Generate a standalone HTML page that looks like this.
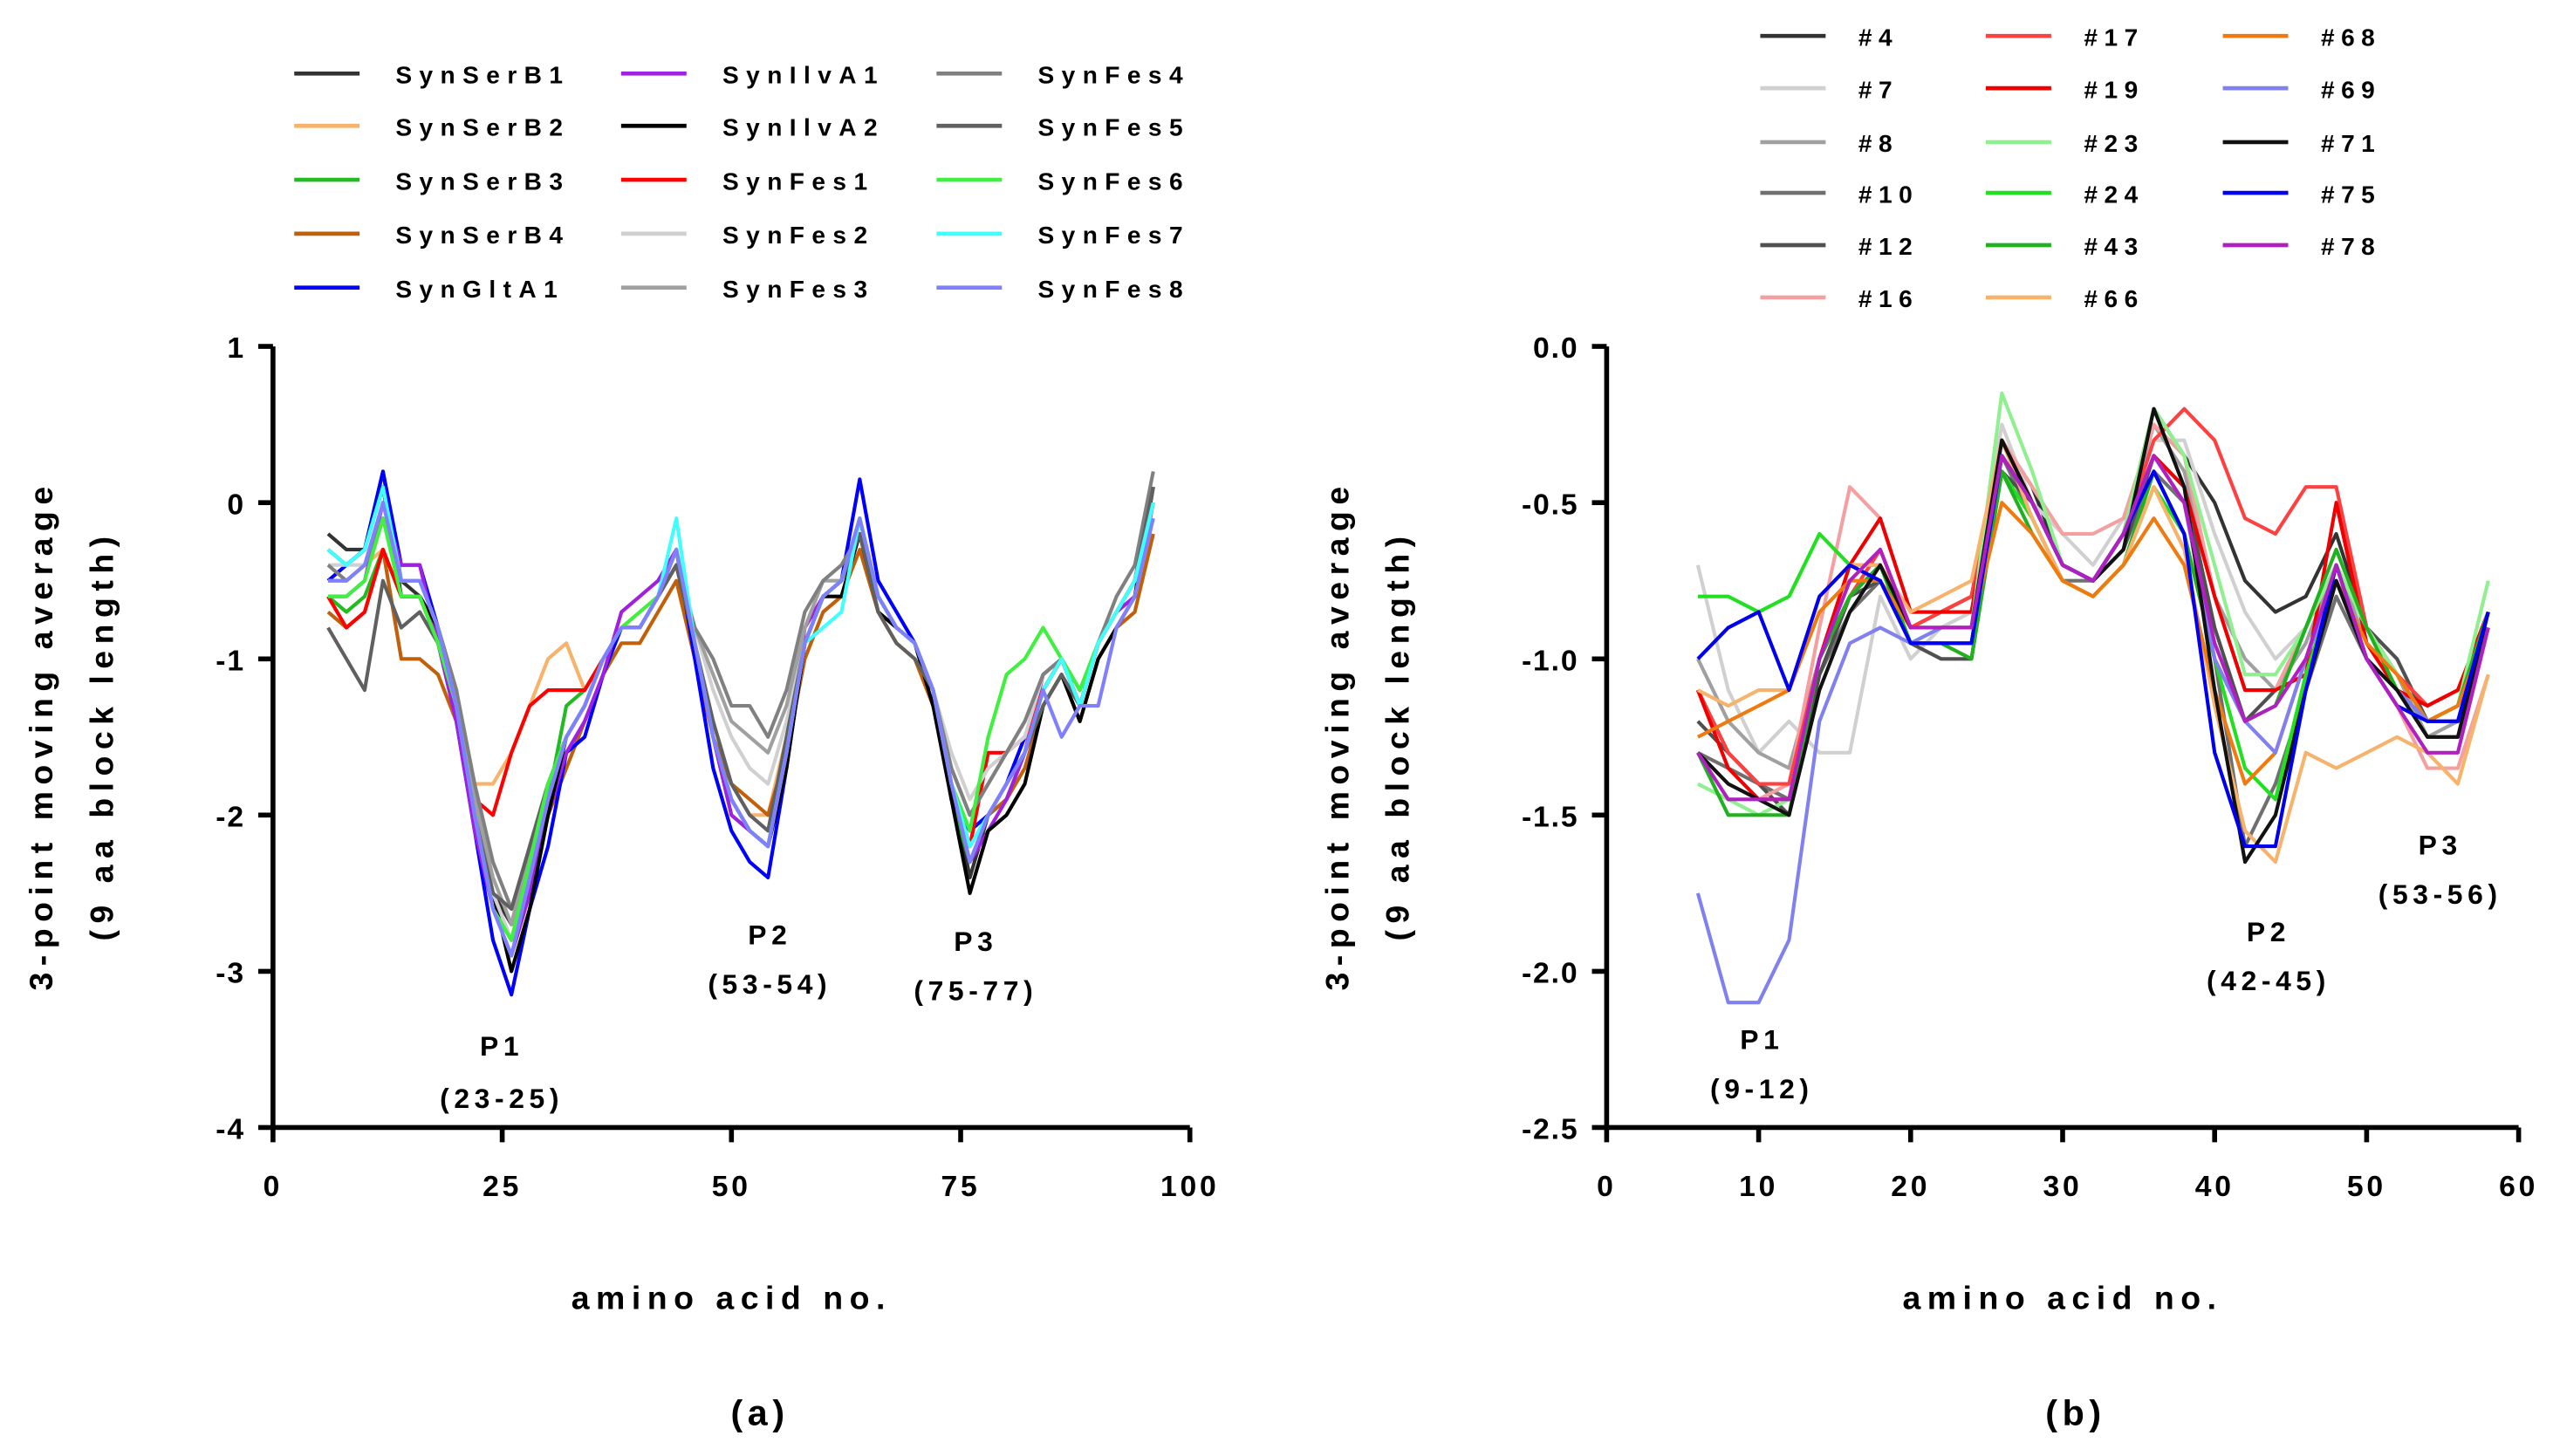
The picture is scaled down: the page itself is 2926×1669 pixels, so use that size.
<!DOCTYPE html>
<html><head><meta charset="utf-8"><style>
html,body{margin:0;padding:0;background:#fff;}
svg{display:block;font-family:"Liberation Sans",Arial,sans-serif;font-weight:bold;}
</style></head><body>
<svg id="fig" width="2926" height="1669" viewBox="0 0 1562 891" xmlns="http://www.w3.org/2000/svg">
<g id="chartA"></g>
<g id="chartB"></g>
</svg>
<script>
// ---------- Chart A data ----------
const xA = [6,8,10,12,14,16,18,20,22,24,26,28,30,32,34,36,38,40,42,44,46,48,50,52,54,56,58,60,62,64,66,68,70,72,74,76,78,80,82,84,86,88,90,92,94,96];
const namesA = ["SynSerB1","SynSerB2","SynSerB3","SynSerB4","SynGltA1","SynIlvA1","SynIlvA2","SynFes1","SynFes2","SynFes3","SynFes4","SynFes5","SynFes6","SynFes7","SynFes8"];
const colorsA = ["#333333","#f7b26b","#22bb22","#c0600a","#0000ff","#a020e0","#000000","#ff0000","#d0d0d0","#a0a0a0","#808080","#606060","#40f040","#40ffff","#8080ff"];
const sSerB1=[-0.2,-0.3,-0.3,0.2,-0.5,-0.6,-0.8,-1.2,-1.9,-2.5,-2.7,-2.3,-1.9,-1.5,-1.3,-1.0,-0.8,-0.8,-0.6,-0.4,-0.9,-1.5,-1.9,-2.1,-2.2,-1.6,-0.9,-0.6,-0.5,-0.1,-0.6,-0.8,-0.9,-1.2,-1.8,-2.4,-2.0,-1.9,-1.6,-1.2,-1.0,-1.3,-0.9,-0.7,-0.5,0.1];
const sSerB2=[-0.5,-0.5,-0.4,-0.3,-0.6,-0.6,-0.9,-1.3,-1.8,-1.8,-1.6,-1.3,-1.0,-0.9,-1.2,-1.0,-0.8,-0.7,-0.6,-0.4,-0.9,-1.4,-1.8,-2.0,-2.0,-1.5,-0.9,-0.6,-0.5,-0.2,-0.6,-0.8,-0.9,-1.2,-1.8,-2.2,-2.0,-1.8,-1.6,-1.2,-1.0,-1.3,-0.9,-0.7,-0.5,0.0];
const sSerB3=[-0.6,-0.7,-0.6,-0.3,-0.6,-0.6,-0.9,-1.3,-2.0,-2.6,-2.8,-2.3,-1.9,-1.3,-1.2,-1.0,-0.8,-0.8,-0.6,-0.3,-0.9,-1.5,-2.0,-2.1,-2.2,-1.6,-0.9,-0.6,-0.5,-0.2,-0.6,-0.8,-0.9,-1.2,-1.9,-2.3,-2.0,-1.8,-1.6,-1.2,-1.0,-1.3,-0.9,-0.7,-0.5,0.0];
const sSerB4=[-0.7,-0.8,-0.7,-0.3,-1.0,-1.0,-1.1,-1.4,-2.0,-2.6,-2.8,-2.4,-2.0,-1.7,-1.4,-1.1,-0.9,-0.9,-0.7,-0.5,-1.0,-1.5,-1.8,-1.9,-2.0,-1.6,-1.0,-0.7,-0.6,-0.3,-0.7,-0.9,-1.0,-1.3,-1.8,-2.2,-2.0,-1.9,-1.7,-1.3,-1.1,-1.4,-1.0,-0.8,-0.7,-0.2];
const sGltA1=[-0.5,-0.4,-0.3,0.2,-0.4,-0.4,-0.8,-1.4,-2.1,-2.8,-3.15,-2.6,-2.2,-1.6,-1.5,-1.1,-0.8,-0.8,-0.6,-0.3,-1.0,-1.7,-2.1,-2.3,-2.4,-1.7,-0.9,-0.6,-0.5,0.15,-0.5,-0.7,-0.9,-1.2,-1.9,-2.1,-2.0,-1.8,-1.5,-1.2,-1.0,-1.3,-0.9,-0.7,-0.5,0.0];
const sIlvA1=[-0.6,-0.6,-0.5,0.0,-0.4,-0.4,-0.9,-1.4,-2.1,-2.6,-2.9,-2.5,-2.0,-1.6,-1.4,-1.1,-0.7,-0.6,-0.5,-0.3,-0.9,-1.5,-2.0,-2.1,-2.2,-1.6,-0.8,-0.6,-0.5,-0.1,-0.6,-0.8,-0.9,-1.2,-1.8,-2.3,-2.1,-1.9,-1.6,-1.1,-1.0,-1.3,-0.9,-0.7,-0.6,0.0];
const sIlvA2=[-0.3,-0.4,-0.3,0.1,-0.6,-0.6,-0.8,-1.3,-1.9,-2.5,-3.0,-2.6,-2.0,-1.5,-1.3,-1.0,-0.8,-0.8,-0.6,-0.4,-0.9,-1.5,-1.9,-2.1,-2.2,-1.7,-0.9,-0.6,-0.6,-0.2,-0.7,-0.8,-0.9,-1.3,-1.9,-2.5,-2.1,-2.0,-1.8,-1.3,-1.1,-1.4,-1.0,-0.8,-0.6,0.1];
const sFes1=[-0.6,-0.8,-0.7,-0.3,-0.6,-0.6,-0.9,-1.3,-1.9,-2.0,-1.6,-1.3,-1.2,-1.2,-1.2,-1.0,-0.8,-0.8,-0.6,-0.3,-0.9,-1.5,-1.9,-2.1,-2.2,-1.6,-0.9,-0.6,-0.5,-0.1,-0.6,-0.8,-0.9,-1.2,-1.8,-2.2,-1.6,-1.6,-1.5,-1.2,-1.0,-1.3,-0.9,-0.7,-0.5,0.0];
const sFes2=[-0.4,-0.4,-0.4,0.0,-0.5,-0.5,-0.8,-1.3,-1.9,-2.5,-2.8,-2.3,-1.9,-1.5,-1.3,-1.0,-0.8,-0.8,-0.6,-0.3,-0.8,-1.2,-1.5,-1.7,-1.8,-1.4,-0.9,-0.6,-0.5,-0.1,-0.6,-0.8,-0.9,-1.2,-1.6,-1.9,-1.7,-1.6,-1.5,-1.1,-1.0,-1.2,-0.9,-0.7,-0.5,0.0];
const sFes3=[-0.5,-0.5,-0.4,-0.1,-0.5,-0.5,-0.8,-1.2,-1.9,-2.4,-2.7,-2.2,-1.8,-1.5,-1.3,-1.0,-0.8,-0.8,-0.6,-0.4,-0.8,-1.1,-1.4,-1.5,-1.6,-1.3,-0.8,-0.5,-0.5,-0.2,-0.6,-0.8,-0.9,-1.2,-1.7,-2.0,-1.8,-1.6,-1.4,-1.1,-1.0,-1.2,-0.9,-0.7,-0.5,0.1];
const sFes4=[-0.4,-0.5,-0.4,-0.1,-0.5,-0.5,-0.8,-1.2,-1.8,-2.3,-2.6,-2.2,-1.8,-1.5,-1.3,-1.0,-0.8,-0.8,-0.6,-0.4,-0.8,-1.0,-1.3,-1.3,-1.5,-1.2,-0.7,-0.5,-0.4,-0.2,-0.6,-0.8,-0.9,-1.2,-1.7,-2.0,-1.8,-1.6,-1.4,-1.1,-1.0,-1.2,-0.9,-0.6,-0.4,0.2];
const sFes5=[-0.8,-1.0,-1.2,-0.5,-0.8,-0.7,-0.9,-1.3,-2.0,-2.5,-2.6,-2.2,-1.8,-1.5,-1.3,-1.0,-0.8,-0.8,-0.6,-0.4,-0.9,-1.4,-1.8,-2.0,-2.1,-1.5,-0.9,-0.6,-0.5,-0.2,-0.7,-0.9,-1.0,-1.2,-1.8,-2.3,-2.0,-1.8,-1.6,-1.3,-1.1,-1.3,-0.9,-0.7,-0.5,0.1];
const sFes6=[-0.6,-0.6,-0.5,-0.1,-0.6,-0.6,-0.9,-1.3,-2.0,-2.6,-2.8,-2.3,-1.8,-1.5,-1.3,-1.0,-0.8,-0.7,-0.6,-0.3,-0.9,-1.5,-1.9,-2.1,-2.2,-1.6,-0.9,-0.6,-0.5,-0.1,-0.6,-0.8,-0.9,-1.2,-1.8,-2.1,-1.5,-1.1,-1.0,-0.8,-1.0,-1.2,-0.9,-0.7,-0.5,-0.1];
const sFes7=[-0.3,-0.4,-0.3,0.1,-0.5,-0.5,-0.8,-1.3,-2.0,-2.6,-2.9,-2.4,-1.9,-1.5,-1.3,-1.0,-0.8,-0.8,-0.6,-0.1,-0.9,-1.5,-1.9,-2.1,-2.2,-1.6,-0.9,-0.8,-0.7,-0.1,-0.6,-0.8,-0.9,-1.2,-1.8,-2.2,-2.0,-1.8,-1.6,-1.2,-1.0,-1.3,-0.9,-0.7,-0.5,0.0];
const sFes8=[-0.5,-0.5,-0.4,0.0,-0.5,-0.5,-0.8,-1.3,-2.0,-2.6,-2.9,-2.4,-1.9,-1.5,-1.3,-1.0,-0.8,-0.8,-0.6,-0.3,-0.9,-1.5,-1.9,-2.1,-2.2,-1.6,-0.9,-0.6,-0.5,-0.1,-0.6,-0.8,-0.9,-1.2,-1.8,-2.3,-2.0,-1.8,-1.6,-1.2,-1.5,-1.3,-1.3,-0.8,-0.6,-0.1];
const seriesA=[sSerB1,sSerB2,sSerB3,sSerB4,sGltA1,sIlvA1,sIlvA2,sFes1,sFes2,sFes3,sFes4,sFes5,sFes6,sFes7,sFes8];
const xTicksA=[0,25,50,75,100];
const yTicksA=[1,0,-1,-2,-3,-4];

// ---------- Chart B data ----------
const xB=[6,8,10,12,14,16,18,20,22,24,26,28,30,32,34,36,38,40,42,44,46,48,50,52,54,56,58];
const namesB=["#4","#7","#8","#10","#12","#16","#17","#19","#23","#24","#43","#66","#68","#69","#71","#75","#78"];
const colorsB=["#333333","#d0d0d0","#a0a0a0","#707070","#505050","#f4a0a0","#ff4040","#ee0000","#90f090","#20e020","#20b020","#f7b26b","#f07a10","#8080f0","#111111","#0000ee","#b020c0"];
const b4 =[-1.1,-1.3,-1.4,-1.45,-1.0,-0.8,-0.7,-0.9,-0.85,-0.8,-0.3,-0.45,-0.7,-0.75,-0.6,-0.2,-0.35,-0.5,-0.75,-0.85,-0.8,-0.6,-0.9,-1.05,-1.2,-1.2,-0.85];
const b7 =[-0.7,-1.1,-1.3,-1.2,-1.3,-1.3,-0.8,-1.0,-0.9,-0.85,-0.25,-0.5,-0.6,-0.7,-0.55,-0.3,-0.3,-0.6,-0.85,-1.0,-0.9,-0.7,-0.9,-1.0,-1.2,-1.2,-0.9];
const b8 =[-1.0,-1.2,-1.3,-1.35,-1.0,-0.8,-0.7,-0.95,-0.9,-0.9,-0.3,-0.5,-0.7,-0.75,-0.6,-0.25,-0.4,-0.8,-1.0,-1.1,-0.95,-0.7,-0.95,-1.05,-1.25,-1.2,-0.9];
const b10=[-1.3,-1.35,-1.4,-1.45,-1.05,-0.85,-0.75,-0.95,-0.95,-0.95,-0.35,-0.55,-0.75,-0.75,-0.65,-0.4,-0.5,-1.0,-1.6,-1.4,-1.1,-0.8,-1.0,-1.1,-1.25,-1.25,-0.9];
const b12=[-1.2,-1.3,-1.4,-1.5,-1.05,-0.8,-0.75,-0.95,-1.0,-1.0,-0.4,-0.5,-0.7,-0.75,-0.65,-0.35,-0.45,-0.9,-1.2,-1.1,-0.9,-0.7,-0.9,-1.0,-1.2,-1.2,-0.9];
const b16=[-1.3,-1.4,-1.45,-1.4,-0.9,-0.45,-0.55,-0.85,-0.85,-0.85,-0.3,-0.45,-0.6,-0.6,-0.55,-0.25,-0.35,-0.8,-1.1,-1.1,-0.9,-0.7,-1.0,-1.15,-1.35,-1.35,-1.05];
const b17=[-1.1,-1.3,-1.4,-1.4,-1.0,-0.8,-0.65,-0.9,-0.85,-0.8,-0.3,-0.5,-0.7,-0.75,-0.6,-0.3,-0.2,-0.3,-0.55,-0.6,-0.45,-0.45,-0.9,-1.05,-1.15,-1.1,-0.9];
const b19=[-1.1,-1.35,-1.45,-1.45,-1.0,-0.7,-0.55,-0.85,-0.85,-0.85,-0.3,-0.5,-0.7,-0.75,-0.6,-0.35,-0.45,-0.8,-1.1,-1.1,-1.05,-0.5,-0.95,-1.1,-1.15,-1.1,-0.85];
const b23=[-1.4,-1.45,-1.5,-1.45,-1.0,-0.8,-0.7,-0.95,-0.9,-0.9,-0.15,-0.4,-0.7,-0.75,-0.6,-0.2,-0.35,-0.7,-1.05,-1.05,-0.9,-0.7,-0.9,-1.05,-1.2,-1.15,-0.75];
const b24=[-0.8,-0.8,-0.85,-0.8,-0.6,-0.7,-0.7,-0.95,-0.95,-0.95,-0.4,-0.55,-0.75,-0.8,-0.7,-0.45,-0.6,-1.0,-1.35,-1.45,-1.05,-0.75,-1.0,-1.1,-1.2,-1.15,-0.85];
const b43=[-1.3,-1.5,-1.5,-1.5,-1.0,-0.8,-0.7,-0.95,-0.95,-1.0,-0.4,-0.6,-0.75,-0.8,-0.7,-0.4,-0.6,-1.0,-1.2,-1.15,-0.9,-0.65,-0.9,-1.1,-1.2,-1.15,-0.85];
const b66=[-1.1,-1.15,-1.1,-1.1,-0.8,-0.7,-0.7,-0.85,-0.8,-0.75,-0.3,-0.55,-0.75,-0.8,-0.7,-0.45,-0.65,-1.15,-1.55,-1.65,-1.3,-1.35,-1.3,-1.25,-1.3,-1.4,-1.05];
const b68=[-1.25,-1.2,-1.15,-1.1,-0.85,-0.75,-0.75,-0.9,-0.9,-0.9,-0.5,-0.6,-0.75,-0.8,-0.7,-0.55,-0.7,-1.1,-1.4,-1.3,-1.0,-0.75,-0.95,-1.05,-1.2,-1.15,-0.9];
const b69=[-1.75,-2.1,-2.1,-1.9,-1.2,-0.95,-0.9,-0.95,-0.9,-0.9,-0.35,-0.5,-0.7,-0.75,-0.6,-0.35,-0.5,-1.0,-1.2,-1.3,-1.0,-0.75,-1.0,-1.1,-1.2,-1.2,-0.9];
const b71=[-1.3,-1.4,-1.45,-1.5,-1.1,-0.85,-0.7,-0.9,-0.9,-0.9,-0.3,-0.5,-0.7,-0.75,-0.65,-0.2,-0.45,-1.1,-1.65,-1.5,-1.1,-0.75,-1.0,-1.1,-1.25,-1.25,-0.85];
const b75=[-1.0,-0.9,-0.85,-1.1,-0.8,-0.7,-0.75,-0.95,-0.95,-0.95,-0.35,-0.5,-0.7,-0.75,-0.6,-0.4,-0.6,-1.3,-1.6,-1.6,-1.1,-0.7,-1.0,-1.15,-1.2,-1.2,-0.85];
const b78=[-1.3,-1.45,-1.45,-1.45,-1.0,-0.75,-0.65,-0.9,-0.9,-0.9,-0.35,-0.5,-0.7,-0.75,-0.6,-0.35,-0.5,-0.95,-1.2,-1.15,-1.0,-0.7,-1.0,-1.15,-1.3,-1.3,-0.9];
const seriesB=[b4,b7,b8,b10,b12,b16,b17,b19,b23,b24,b43,b66,b68,b69,b71,b75,b78];
const xTicksB=[0,10,20,30,40,50,60];
const yTicksB=[0,-0.5,-1,-1.5,-2,-2.5];
const yTickLabelsB=["0.0","-0.5","-1.0","-1.5","-2.0","-2.5"];

const NS="http://www.w3.org/2000/svg";
function mk(parent,tag,attrs,text){const e=document.createElementNS(NS,tag);for(const k in attrs)e.setAttribute(k,attrs[k]);if(text!==undefined)e.textContent=text;parent.appendChild(e);return e;}

function drawChart(g,cfg){
  const sx=v=>cfg.x0+(v-cfg.xmin)/(cfg.xmax-cfg.xmin)*(cfg.x1-cfg.x0);
  const sy=v=>cfg.y0+(cfg.ymax-v)/(cfg.ymax-cfg.ymin)*(cfg.y1-cfg.y0);
  cfg.series.forEach((s,i)=>{
    const d=s.map((v,j)=>(j?"L":"M")+sx(cfg.xs[j]).toFixed(1)+","+sy(v).toFixed(1)).join("");
    const p=mk(g,"path",{d:d,fill:"none",stroke:cfg.colors[i],"stroke-width":2.2,"stroke-linejoin":"round"});
    
    
  });
  const ax=mk(g,"path",{d:`M${cfg.x0},${cfg.y0}L${cfg.x0},${cfg.y1}L${cfg.x1},${cfg.y1}`,fill:"none",stroke:"#000","stroke-width":3});
  
  
  cfg.xticks.forEach(t=>{
    mk(g,"line",{x1:sx(t),x2:sx(t),y1:cfg.y1,y2:cfg.y1+9,stroke:"#000","stroke-width":3});
    const tx=mk(g,"text",{x:sx(t),y:cfg.y1+42,"text-anchor":"middle","font-size":18,"letter-spacing":2},String(t));
    
    
  });
  cfg.yticks.forEach((t,i)=>{
    mk(g,"line",{x1:cfg.x0-9,x2:cfg.x0,y1:sy(t),y2:sy(t),stroke:"#000","stroke-width":3});
    const tx=mk(g,"text",{x:cfg.x0-17,y:sy(t)+7,"text-anchor":"end","font-size":18,"letter-spacing":1},cfg.ylabels[i]);
    
    
  });
  const xt=mk(g,"text",{x:(cfg.x0+cfg.x1)/2,y:801,"text-anchor":"middle","font-size":20,"letter-spacing":4},"amino acid no.");
  
  
  const yt=mk(g,"text",{transform:`translate(${cfg.ytx},450) rotate(-90)`,"text-anchor":"middle","font-size":20,"letter-spacing":4},"3-point moving average");
  
  
  const yt2=mk(g,"text",{transform:`translate(${cfg.ytx+37},450) rotate(-90)`,"text-anchor":"middle","font-size":20,"letter-spacing":4},"(9 aa block length)");
  
  
  const pl=mk(g,"text",{x:cfg.panelX,y:872,"text-anchor":"middle","font-size":22,"letter-spacing":3},cfg.panel);
  
  
  cfg.notes.forEach(n=>{
    const a=mk(g,"text",{x:n[0],y:n[1],"text-anchor":"middle","font-size":17,"letter-spacing":3},n[2]);
    
    
  });
  cfg.names.forEach((nm,i)=>{
    const c=Math.floor(i/cfg.rows), r=i%cfg.rows;
    const lx=cfg.legX[c], ly=cfg.legY[r];
    const le=mk(g,"g",{});
    
    
    mk(le,"line",{x1:lx,x2:lx+40,y1:ly,y2:ly,stroke:cfg.colors[i],"stroke-width":2.5});
    mk(le,"text",{x:lx+cfg.legTextDx,y:ly+6,"font-size":15,"letter-spacing":cfg.legLS},nm);
  });
}

drawChart(document.getElementById("chartA"),{
  xs:xA,series:seriesA,colors:colorsA,names:namesA,
  x0:167,x1:728,y0:212,y1:690,xmin:0,xmax:100,ymin:-4,ymax:1,
  xticks:xTicksA,yticks:yTicksA,ylabels:yTicksA.map(String),ytx:32,panel:"(a)",panelX:465,
  notes:[[307,646,"P1"],[307,678,"(23-25)"],[471,578,"P2"],[471,608,"(53-54)"],[597,582,"P3"],[597,612,"(75-77)"]],
  rows:5,legX:[180,380,573],legY:[45,77,110,143,176],legTextDx:62,legLS:4.5
});
drawChart(document.getElementById("chartB"),{
  xs:xB,series:seriesB,colors:colorsB,names:namesB,
  x0:983,x1:1541,y0:212,y1:690,xmin:0,xmax:60,ymin:-2.5,ymax:0,
  xticks:xTicksB,yticks:yTicksB,ylabels:yTickLabelsB,ytx:825,panel:"(b)",panelX:1270,
  notes:[[1078,642,"P1"],[1078,672,"(9-12)"],[1388,576,"P2"],[1388,606,"(42-45)"],[1493,523,"P3"],[1493,553,"(53-56)"]],
  rows:6,legX:[1077,1215,1360],legY:[22,54,87,118,150,182],legTextDx:60,legLS:4
});
</script>
</body></html>
